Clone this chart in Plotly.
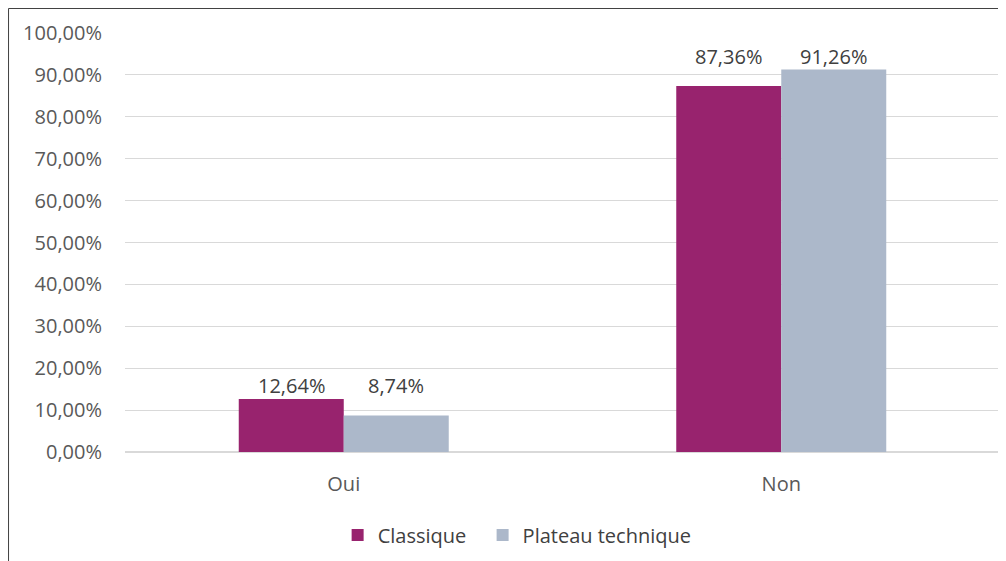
import plotly.graph_objects as go

categories = ["Oui", "Non"]
classique = [0.1264, 0.8736]
plateau = [0.0874, 0.9126]
tick_vals = [i / 10 for i in range(11)]

font_family = "Open Sans, Liberation Sans, sans-serif"
series = [("Classique", classique, "#98236E", -52.5, "legend"),
          ("Plateau technique", plateau, "#ACB8CA", 52.5, "legend2")]

fig = go.Figure()
for name, vals, color, _, leg in series:
    fig.add_trace(go.Bar(
        name=name, x=categories, y=vals, legend=leg,
        marker=dict(color=color, line=dict(width=0)),
    ))

# Data labels: placed level with the top of the taller bar of each group
annotations = []
for name, vals, color, xs, _ in series:
    for i, cat in enumerate(categories):
        group_max = max(classique[i], plateau[i])
        annotations.append(dict(
            x=cat, y=group_max, xref="x", yref="y",
            text=f"{vals[i] * 100:.2f}%".replace(".", ","),
            showarrow=False, xshift=xs, yshift=-2, yanchor="bottom",
            font=dict(color="#404040", size=20, family=font_family),
        ))

leg_common = dict(orientation="h", xanchor="left", y=-0.198, yanchor="middle",
                  font=dict(size=20, color="#404040"), itemwidth=30)

fig.update_layout(
    width=998, height=553,
    margin=dict(l=117, r=6, t=25, b=109),
    paper_bgcolor="white", plot_bgcolor="white",
    barmode="group", bargap=0.52, bargroupgap=0,
    separators=", ",
    font=dict(family=font_family, color="#595959", size=20),
    showlegend=True,
    legend=dict(x=0.243, **leg_common),
    legend2=dict(x=0.4087, **leg_common),
    xaxis=dict(showgrid=False, showline=True, linecolor="#d9d9d9", linewidth=1,
               ticks="", tickfont=dict(size=20, color="#595959"), ticklabelstandoff=14),
    yaxis=dict(range=[0, 1], tickvals=tick_vals, tickformat=".2%",
               showgrid=True, gridcolor="#d9d9d9", gridwidth=1,
               zeroline=True, zerolinecolor="#d9d9d9", ticks="",
               tickfont=dict(size=20, color="#595959"), ticklabelstandoff=22),
    annotations=annotations,
    shapes=[
        dict(type="line", xref="paper", yref="paper", x0=-0.1331, x1=1.0046, y0=1.0585, y1=1.0585,
             line=dict(color="#404040", width=1)),
        dict(type="line", xref="paper", yref="paper", x0=-0.1331, x1=-0.1331, y0=1.0585, y1=-0.3,
             line=dict(color="#404040", width=1)),
    ],
)

fig.write_html("out.html")
